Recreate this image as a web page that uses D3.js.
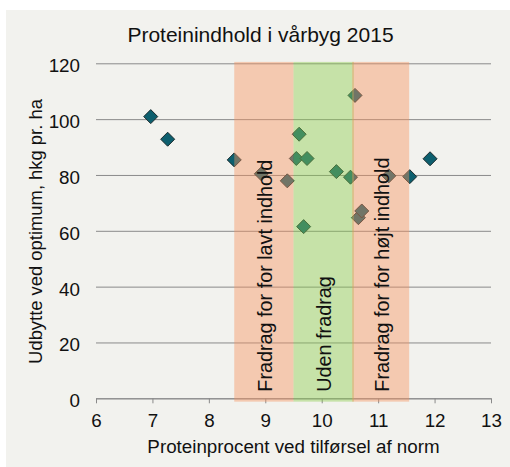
<!DOCTYPE html>
<html><head><meta charset="utf-8">
<script src="https://cdn.jsdelivr.net/npm/d3@7"></script>
<style>
body{margin:0;background:#fff}
svg{display:block}
text{font-family:"Liberation Sans",Arial,sans-serif;fill:#111}
</style></head><body>
<script>
const title = "Proteinindhold i vårbyg 2015";
const xTitle = "Proteinprocent ved tilførsel af norm";
const yTitle = "Udbytte ved optimum, hkg pr. ha";
const xTicks = [6,7,8,9,10,11,12,13];
const yTicks = [0,20,40,60,80,100,120];
const proteinPct = [6.97,7.27,8.45,8.93,9.39,9.55,9.6,9.68,9.74,10.26,10.51,10.59,10.65,10.71,11.19,11.56,11.92];
const yieldHkg  = [100.9,92.8,85.4,80.4,77.9,85.9,94.6,61.5,85.9,81.2,79.2,108.5,64.7,67.1,79.7,79.4,85.8];
const bandLabels = ["Fradrag for for lavt indhold","Uden fradrag","Fradrag for for højt indhold"];
const bandStart = [8.45,9.5,10.54];
const bandEnd   = [9.5,10.57,11.55];
const bandColors = ["#f59160","#8acb4c","#f59160"];

const W=510,H=467;
const svg=d3.select("body").append("svg").attr("width",W).attr("height",H);
svg.append("rect").attr("x",6).attr("y",10).attr("width",W-6).attr("height",H-10).attr("fill","#f2f2ee");

const x=d3.scaleLinear().domain([6,13]).range([96,491]);
const y=d3.scaleLinear().domain([0,120]).range([398.3,63.3]);

// y grid + labels
const ya=svg.append("g").attr("transform","translate(96,0)")
  .call(d3.axisLeft(y).tickValues(yTicks).tickSize(-(491-96)).tickPadding(16));
ya.select(".domain").remove();
ya.selectAll(".tick line").attr("stroke","#8a8a8a").attr("stroke-width",1);
ya.selectAll(".tick text").attr("dy",8.4).attr("font-size",18.8).attr("fill","#111");

// x axis
const xa=svg.append("g").attr("transform","translate(0,398.3)")
  .call(d3.axisBottom(x).tickValues(xTicks).tickSize(5).tickSizeOuter(0).tickFormat(d3.format("d")));
xa.select(".domain").attr("stroke","#8a8a8a");
xa.selectAll(".tick line").attr("stroke","#8a8a8a");
xa.selectAll(".tick text").attr("y",28.4).attr("dy",0).attr("font-size",18.8).attr("fill","#111");

// points
const pts=proteinPct.map((p,i)=>({p,v:yieldHkg[i]}));
const r=7;
svg.append("g").selectAll("path").data(pts).join("path")
  .attr("transform",d=>`translate(${x(d.p)},${y(d.v)})`)
  .attr("d",`M0,${-r}L${r},0L0,${r}L${-r},0Z`)
  .attr("fill","#0d5f6e").attr("stroke","#1a2a2c").attr("stroke-width",1);

// bands (translucent, drawn over points)
const bands=bandLabels.map((l,i)=>({l,s:bandStart[i],e:bandEnd[i],c:bandColors[i]}));
svg.append("g").selectAll("rect").data(bands).join("rect")
  .attr("x",d=>x(d.s)).attr("width",d=>x(d.e)-x(d.s))
  .attr("y",y(120.5)).attr("height",y(-1.2)-y(120.5))
  .attr("fill",d=>d.c).attr("fill-opacity",0.43);

svg.append("g").selectAll("text").data(bands).join("text")
  .attr("transform",(d,i)=>{const s=i===2?bandStart[i]+0.03:d.s;const e=i===1?d.e-0.03:d.e;return `translate(${(x(s)+x(e))/2+7.7},391.7) rotate(-90)`;})
  .attr("font-size",19.8).attr("text-anchor","start").text(d=>d.l);

// titles
svg.append("text").attr("x",260.5).attr("y",41.5).attr("text-anchor","middle").attr("font-size",21).text(title);
svg.append("text").attr("x",293.5).attr("y",453.3).attr("text-anchor","middle").attr("font-size",18.8).text(xTitle);
svg.append("text").attr("transform","translate(41.5,231.5) rotate(-90)").attr("text-anchor","middle").attr("font-size",18.4).text(yTitle);
</script>
</body></html>
